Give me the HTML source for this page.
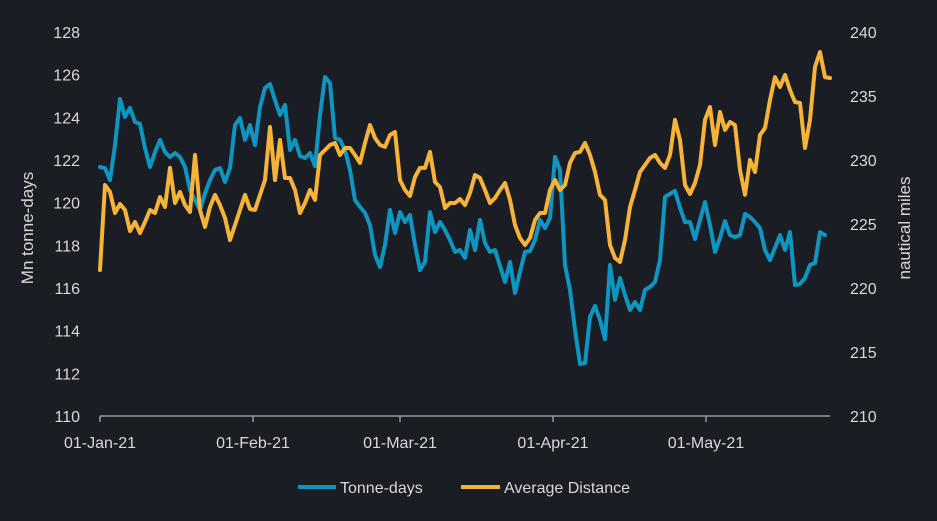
<!DOCTYPE html>
<html><head><meta charset="utf-8"><style>
html,body{margin:0;padding:0;background:#1b1d25;}
svg{display:block;font-family:"Liberation Sans",sans-serif;}
</style></head><body>
<svg id="chart" width="937" height="521" viewBox="0 0 937 521">
<rect width="937" height="521" fill="#1b1d25"/>
<g id="axes"></g>
<g id="series"></g>
<text x="33" y="228" transform="rotate(-90 33 228)" fill="#d8d8d8" font-size="17" text-anchor="middle">Mn tonne-days</text>
<text x="910" y="228" transform="rotate(-90 910 228)" fill="#d8d8d8" font-size="17" text-anchor="middle">nautical miles</text>
<g>
<g>
<line x1="298" y1="487" x2="336" y2="487" stroke="#0e96c0" stroke-width="4"/>
<text x="340" y="493" fill="#d8d8d8" font-size="16">Tonne-days</text>
</g>
<g>
<line x1="461" y1="487" x2="500" y2="487" stroke="#f6b33a" stroke-width="4"/>
<text x="504" y="493" fill="#d8d8d8" font-size="16">Average Distance</text>
</g>
</g>
</svg>
<script>
const leftTicks = [110,112,114,116,118,120,122,124,126,128];
const rightTicks = [210,215,220,225,230,235,240];
const xTickDays = [0,30.6,60,90.6,121.2];
const xTickLabels = ["01-Jan-21","01-Feb-21","01-Mar-21","01-Apr-21","01-May-21"];
const tonneDays = [121.67,121.62,121.06,122.70,124.86,124.02,124.44,123.78,123.69,122.56,121.67,122.37,122.94,122.37,122.14,122.33,122.14,121.67,120.59,120.12,119.66,120.45,121.06,121.53,121.62,120.97,121.62,123.64,123.97,122.94,123.64,122.70,124.48,125.38,125.56,124.81,124.11,124.58,122.47,122.94,122.19,122.09,122.33,121.72,124.11,125.89,125.61,123.03,122.94,122.47,121.53,120.12,119.80,119.52,118.95,117.55,116.98,118.02,119.66,118.58,119.56,119.09,119.42,118.02,116.84,117.22,119.56,118.62,119.09,118.72,118.25,117.69,117.78,117.41,118.72,117.78,119.19,118.11,117.69,117.78,117.03,116.28,117.22,115.77,116.75,117.69,117.73,118.25,119.19,118.81,119.28,122.14,121.53,117.08,115.91,114.03,112.44,112.48,114.64,115.16,114.50,113.60,117.08,115.44,116.47,115.67,114.97,115.34,114.97,115.91,116.05,116.28,117.31,120.27,120.41,120.55,119.77,119.09,119.09,118.30,119.19,120.03,118.95,117.69,118.34,119.14,118.48,118.39,118.48,119.47,119.33,119.09,118.81,117.78,117.31,117.88,118.48,117.78,118.62,116.14,116.19,116.47,117.08,117.17,118.62,118.48];
const avgDistance = [221.41,228.05,227.50,225.86,226.56,226.09,224.45,225.16,224.30,225.16,226.09,225.86,227.11,226.33,229.38,226.64,227.50,226.48,225.94,230.39,226.09,224.77,226.33,227.27,226.48,225.47,223.75,224.92,226.09,227.27,226.17,226.09,227.27,228.44,232.58,228.44,231.56,228.59,228.59,227.66,225.86,226.64,227.66,226.88,230.39,230.78,231.17,231.33,230.39,230.94,230.94,230.39,229.77,231.33,232.73,231.72,231.17,231.02,231.95,232.19,228.44,227.66,227.19,228.67,229.38,229.38,230.63,228.28,227.89,226.25,226.64,226.64,226.95,226.48,227.42,228.83,228.59,227.66,226.64,227.03,227.66,228.20,226.88,224.92,223.91,223.36,223.91,225.31,225.86,225.86,227.66,228.44,227.66,228.05,229.77,230.55,230.63,231.33,230.39,229.06,227.27,226.88,223.36,222.34,222.03,223.75,226.33,227.66,229.06,229.61,230.16,230.39,229.77,229.38,230.39,233.13,231.56,228.05,227.34,228.20,229.61,233.13,234.14,231.17,233.75,232.34,232.97,232.73,229.22,227.27,230.00,229.06,231.95,232.50,234.69,236.48,235.70,236.64,235.47,234.53,234.45,230.94,233.13,237.27,238.44,236.48,236.41];

const NS="http://www.w3.org/2000/svg";
const X0=100,X1=830,Y0=416,Y1=32;
const xS=d=>X0+(d/146)*(X1-X0);
const yL=v=>Y0-(v-110)/(128-110)*(Y0-Y1);
const yR=v=>Y0-(v-210)/(240-210)*(Y0-Y1);
const axes=document.getElementById('axes'),ser=document.getElementById('series');
function mk(tag,attrs,parent){const e=document.createElementNS(NS,tag);for(const k in attrs)e.setAttribute(k,attrs[k]);parent.appendChild(e);return e;}
leftTicks.forEach(v=>{
  const t=mk('text',{x:80,y:yL(v)+6,fill:'#d8d8d8','font-size':16,'text-anchor':'end'},axes);
  t.textContent=v;
  
  
});
rightTicks.forEach(v=>{
  const t=mk('text',{x:850,y:yR(v)+6,fill:'#d8d8d8','font-size':16,'text-anchor':'start'},axes);
  t.textContent=v;
  
  
});
const ax=mk('line',{x1:X0,y1:Y0,x2:X1,y2:Y0,stroke:'#9a9a9a','stroke-width':1.5},axes);


xTickDays.forEach((d,i)=>{
  const tk=mk('line',{x1:xS(d),y1:Y0,x2:xS(d),y2:Y0+6,stroke:'#9a9a9a','stroke-width':1.5},axes);
  
  
  const t=mk('text',{x:xS(d),y:448,fill:'#d8d8d8','font-size':16,'text-anchor':'middle'},axes);
  t.textContent=xTickLabels[i];
  
  
});
function line(data,yf,color,name){
  const p=mk('path',{d:data.map((v,i)=>(i?'L':'M')+xS(i).toFixed(1)+','+yf(v).toFixed(1)).join(''),fill:'none',stroke:color,'stroke-width':4,'stroke-linejoin':'round','stroke-linecap':'round'},ser);
  
  
}
line(tonneDays,yL,'#0e96c0','tonne-days-line');
line(avgDistance,yR,'#f6b33a','average-distance-line');
</script>
</body></html>
